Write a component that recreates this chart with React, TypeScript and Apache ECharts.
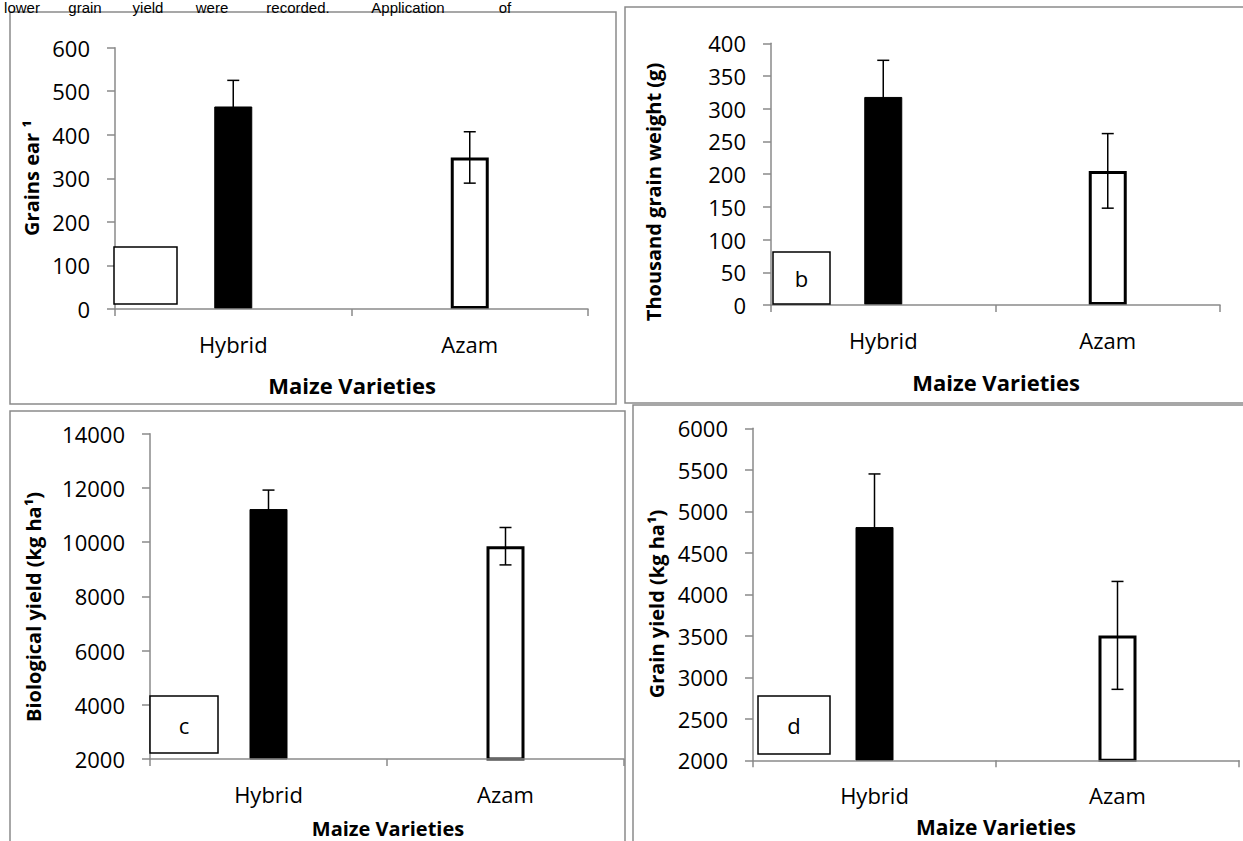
import React, { useEffect, useRef } from "react";
import * as echarts from "echarts";

const categories = ["Hybrid", "Azam"];

const grainsEar = [465, 348];
const grainsEarErr = [60, 59];

const thousandGrainWeight = [318, 205];
const thousandGrainWeightErr = [56, 57];

const biologicalYield = [11220, 9850];
const biologicalYieldErr = [700, 690];

const grainYield = [4810, 3505];
const grainYieldErr = [640, 650];

const panelTitles = ["Grains ear ¹", "Thousand grain weight (g)", "Biological yield (kg ha¹)", "Grain yield (kg ha¹)"];
const xTitle = "Maize Varieties";
const panelLetters = ["", "b", "c", "d"];
const headerWords = ["lower", "grain", "yield", "were", "recorded.", "Application", "of"];
const headerX = [22, 85, 148, 212, 298, 408, 505];

const FONT = "'Open Sans', 'Liberation Sans', sans-serif";
const AXIS_GREY = "#8a8a8a";

const grids = [
  { left: 115, top: 47.7, width: 473, height: 261.3 },
  { left: 771, top: 43.3, width: 449, height: 261.7 },
  { left: 150, top: 433.7, width: 474, height: 325.3 },
  { left: 753, top: 428.3, width: 486, height: 332 },
];

const yRanges = [
  { min: 0, max: 600, interval: 100 },
  { min: 0, max: 400, interval: 50 },
  { min: 2000, max: 14000, interval: 2000 },
  { min: 2000, max: 6000, interval: 500 },
];

const values = [grainsEar, thousandGrainWeight, biologicalYield, grainYield];
const errors = [grainsEarErr, thousandGrainWeightErr, biologicalYieldErr, grainYieldErr];

const yTitlePos = [
  { x: 31, y: 178, size: 20 },
  { x: 653, y: 192, size: 20 },
  { x: 33, y: 607, size: 20 },
  { x: 656, y: 604, size: 20 },
];
const xTitlePos = [
  { x: 352, y: 385, size: 22 },
  { x: 996, y: 382, size: 22 },
  { x: 388, y: 828, size: 20 },
  { x: 996, y: 827, size: 21 },
];
const boxes = [
  { x: 114, y: 247, w: 63, h: 57 },
  { x: 773, y: 252, w: 57, h: 52 },
  { x: 150, y: 696, w: 68, h: 57 },
  { x: 758, y: 696, w: 72, h: 58 },
];
const panels = [
  { x: 10, y: 12, w: 606, h: 392 },
  { x: 625, y: 7, w: 640, h: 396 },
  { x: 10, y: 411, w: 615, h: 460 },
  { x: 633, y: 405, w: 640, h: 460 },
];

function buildOption() {
  const xAxis: any[] = [];
  const yAxis: any[] = [];
  const series: any[] = [];
  const graphic: any[] = [];

  panels.forEach((p) => {
    graphic.push({
      type: "rect",
      shape: { x: p.x, y: p.y, width: p.w, height: p.h },
      style: { fill: "none", stroke: AXIS_GREY, lineWidth: 1.5 },
      z: 0,
    });
  });

  headerWords.forEach((w, i) => {
    graphic.push({
      type: "text",
      x: headerX[i],
      y: 0,
      style: {
        text: w,
        font: "15px 'Liberation Sans', Arial, sans-serif",
        fill: "#000",
        textAlign: "center",
        textVerticalAlign: "top",
      },
      z: 1,
    });
  });

  grids.forEach((g, i) => {
    xAxis.push({
      type: "category",
      gridIndex: i,
      data: categories,
      z: 5,
      axisLine: { show: true, lineStyle: { color: AXIS_GREY, width: 1.5 } },
      axisTick: { show: true, alignWithLabel: false, length: 7, lineStyle: { color: AXIS_GREY, width: 1.5 } },
      axisLabel: { interval: 0, color: "#000", fontFamily: FONT, fontSize: 22, margin: 24 },
      splitLine: { show: false },
    });
    yAxis.push({
      type: "value",
      gridIndex: i,
      min: yRanges[i].min,
      max: yRanges[i].max,
      interval: yRanges[i].interval,
      axisLine: { show: true, lineStyle: { color: AXIS_GREY, width: 1.5 } },
      axisTick: { show: true, length: 8, lineStyle: { color: AXIS_GREY, width: 1.5 } },
      axisLabel: {
        color: "#000",
        fontFamily: FONT,
        fontSize: 22,
        margin: 25,
        formatter: (v: number) => String(v),
      },
      splitLine: { show: false },
    });
    series.push({
      type: "bar",
      xAxisIndex: i,
      yAxisIndex: i,
      barWidth: 38,
      clip: true,
      z: 2,
      data: values[i].map((v, k) => ({
        value: v,
        itemStyle:
          k === 0
            ? { color: "#000", borderColor: "#000", borderWidth: 1 }
            : { color: "#fff", borderColor: "#000", borderWidth: 3 },
      })),
    });
    series.push({
      type: "custom",
      xAxisIndex: i,
      yAxisIndex: i,
      z: 3,
      encode: { x: 0, y: 1 },
      data: values[i].map((v, k) => [k, v, errors[i][k]]),
      renderItem: (params: any, api: any) => {
        const c = api.value(0);
        const v = api.value(1);
        const e = api.value(2);
        const top = api.coord([c, v + e]);
        const bot = api.coord([c, v - e]);
        const hw = 6;
        const st = { stroke: "#000", lineWidth: 1.5 };
        return {
          type: "group",
          children: [
            { type: "line", shape: { x1: top[0], y1: top[1], x2: bot[0], y2: bot[1] }, style: st },
            { type: "line", shape: { x1: top[0] - hw, y1: top[1], x2: top[0] + hw, y2: top[1] }, style: st },
            { type: "line", shape: { x1: bot[0] - hw, y1: bot[1], x2: bot[0] + hw, y2: bot[1] }, style: st },
          ],
        };
      },
    });

    const yt = yTitlePos[i];
    graphic.push({
      type: "text",
      x: yt.x,
      y: yt.y,
      rotation: Math.PI / 2,
      style: {
        text: panelTitles[i],
        font: `bold ${yt.size}px ${FONT}`,
        fill: "#000",
        textAlign: "center",
        textVerticalAlign: "middle",
      },
      z: 10,
    });
    const xt = xTitlePos[i];
    graphic.push({
      type: "text",
      x: xt.x,
      y: xt.y,
      style: {
        text: xTitle,
        font: `bold ${xt.size}px ${FONT}`,
        fill: "#000",
        textAlign: "center",
        textVerticalAlign: "middle",
      },
      z: 10,
    });
    const b = boxes[i];
    graphic.push({
      type: "rect",
      shape: { x: b.x, y: b.y, width: b.w, height: b.h },
      style: { fill: "#fff", stroke: "#000", lineWidth: 1.5 },
      z: 10,
    });
    if (panelLetters[i]) {
      graphic.push({
        type: "text",
        x: b.x + b.w / 2,
        y: b.y + b.h / 2,
        style: {
          text: panelLetters[i],
          font: `22px ${FONT}`,
          fill: "#000",
          textAlign: "center",
          textVerticalAlign: "middle",
        },
        z: 11,
      });
    }
  });

  return {
    animation: false,
    backgroundColor: "#fff",
    grid: grids.map((g) => ({ ...g, containLabel: false })),
    xAxis,
    yAxis,
    series,
    graphic,
  };
}

export default function App() {
  const ref = useRef<HTMLDivElement>(null);
  useEffect(() => {
    if (!ref.current) return;
    const chart = echarts.init(ref.current, null, { renderer: "svg" });
    chart.setOption(buildOption() as any);
    return () => chart.dispose();
  }, []);
  return (
    <div
      ref={ref}
      style={{ position: "absolute", left: 0, top: 0, width: 1243, height: 841, background: "#fff" }}
    />
  );
}
